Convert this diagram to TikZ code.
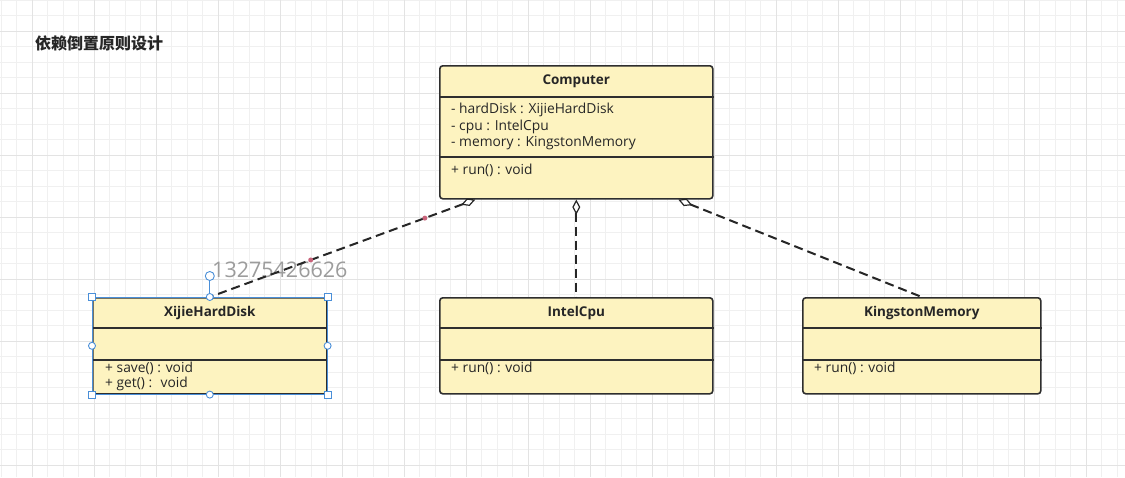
\documentclass[tikz,border=0pt]{standalone}
\usepackage{fontspec}
\setmainfont{Open Sans}
\newfontfamily\cjkfont{Noto Sans CJK SC}
\usepackage{tikz}
\usetikzlibrary{arrows, arrows.meta}
\usepackage{xcolor}
\definecolor{classfill}{HTML}{FDF3C0}
\definecolor{boxline}{HTML}{2E2E2E}
\definecolor{linedark}{HTML}{262626}
\definecolor{textdark}{HTML}{262626}
\definecolor{gridlight}{HTML}{F0F0F0}
\definecolor{griddark}{HTML}{E3E3E3}
\definecolor{selblue}{HTML}{4A8FD8}
\definecolor{waypink}{HTML}{C8637A}
\definecolor{markgray}{HTML}{9C9C9C}

\begin{document}
\begin{tikzpicture}[x=1pt, y=-1pt,
    classbox/.style={draw=boxline, fill=classfill, line width=1.6pt, rounded corners=3pt, anchor=north west, inner sep=0pt, minimum height=96pt},
    classname/.style={font=\bfseries\fontsize{13.5}{15}\selectfont, text=textdark, inner sep=0pt},
    member/.style={anchor=west, font=\fontsize{13.8}{16}\selectfont, text=textdark, inner sep=0pt},
    sepline/.style={draw=boxline, line width=1.3pt},
    aggr/.style={{Diamond[length=15pt, width=8pt, fill=white, line width=1.2pt]}-, draw=linedark, line width=2pt, dash pattern=on 9pt off 5pt},
    gridminor/.style={draw=gridlight, line width=0.8pt},
    gridmajor/.style={draw=griddark, line width=1pt},
    waypt/.style={circle, solid, fill=waypink, inner sep=0pt, minimum size=5pt},
    handlesq/.style={rectangle, solid, draw=selblue, fill=white, line width=0.9pt, minimum size=7pt, inner sep=0pt},
    handlecirc/.style={circle, solid, draw=selblue, fill=white, line width=0.9pt, minimum size=7pt, inner sep=0pt}]

    \useasboundingbox (0,0) rectangle (1125,477);
    \fill[white] (0,0) rectangle (1125,477);
    \foreach \gx in {1,16.5,...,1125} \draw[gridminor] (\gx,0) -- (\gx,477);
    \foreach \gy in {0,15.5,...,477} \draw[gridminor] (0,\gy) -- (1125,\gy);
    \foreach \gx in {32,94,...,1125} \draw[gridmajor] (\gx,0) -- (\gx,477);
    \foreach \gy in {31,93,...,477} \draw[gridmajor] (0,\gy) -- (1125,\gy);

    \node[anchor=west, inner sep=0pt, text=textdark, font=\cjkfont\bfseries\fontsize{16}{18}\selectfont] (title) at (35,43) {依赖倒置原则设计};

    \node[classbox, minimum width=273pt, minimum height=133pt] (computer) at (439,65) {};
    \draw[sepline] ([yshift=-32pt]computer.north west) -- ([yshift=-32pt]computer.north east);
    \draw[sepline] ([yshift=-92pt]computer.north west) -- ([yshift=-92pt]computer.north east);
    \node[classname] at ([yshift=-16pt]computer.north) {Computer};
    \node[member] at ([xshift=12pt, yshift=-45pt]computer.north west) {- hardDisk : XijieHardDisk};
    \node[member] at ([xshift=12pt, yshift=-62pt]computer.north west) {- cpu : IntelCpu};
    \node[member] at ([xshift=12pt, yshift=-78pt]computer.north west) {- memory : KingstonMemory};
    \node[member] at ([xshift=12pt, yshift=-105pt]computer.north west) {+ run() : void};

    \node[classbox, minimum width=234pt] (disk) at (92,297) {};
    \draw[sepline] ([yshift=-31pt]disk.north west) -- ([yshift=-31pt]disk.north east);
    \draw[sepline] ([yshift=-63pt]disk.north west) -- ([yshift=-63pt]disk.north east);
    \node[classname] at ([yshift=-16pt]disk.north) {XijieHardDisk};
    \node[member] at ([xshift=13pt, yshift=-71pt]disk.north west) {+ save() : void};
    \node[member] at ([xshift=13pt, yshift=-87pt]disk.north west) {+ get() :~ void};

    \node[classbox, minimum width=273pt] (cpu) at (439,297) {};
    \draw[sepline] ([yshift=-31pt]cpu.north west) -- ([yshift=-31pt]cpu.north east);
    \draw[sepline] ([yshift=-63pt]cpu.north west) -- ([yshift=-63pt]cpu.north east);
    \node[classname] at ([yshift=-16pt]cpu.north) {IntelCpu};
    \node[member] at ([xshift=12pt, yshift=-71pt]cpu.north west) {+ run() : void};

    \node[classbox, minimum width=238pt] (memory) at (802,297) {};
    \draw[sepline] ([yshift=-31pt]memory.north west) -- ([yshift=-31pt]memory.north east);
    \draw[sepline] ([yshift=-63pt]memory.north west) -- ([yshift=-63pt]memory.north east);
    \node[classname] at ([yshift=-16pt]memory.north) {KingstonMemory};
    \node[member] at ([xshift=12pt, yshift=-71pt]memory.north west) {+ run() : void};

    \node[anchor=west, inner sep=0pt, text=markgray, font=\fontsize{21.5}{24}\selectfont] (mark) at (212,270) {13275426626};

    \draw[aggr] ([xshift=-101pt]computer.south) -- node[waypt, pos=0.19] {} node[waypt, pos=0.62] {} (disk.north);
    \draw[aggr] (computer.south) -- (cpu.north);
    \draw[aggr] ([xshift=102pt]computer.south) -- (memory.north);

    \draw[selblue, line width=0.8pt] (disk.north west) rectangle (disk.south east);
    \node[handlecirc, minimum size=9pt] (rot) at ([yshift=21pt]disk.north) {};
    \draw[selblue, line width=0.8pt] (rot) -- (disk.north);
    \foreach \hc in {north west, north east, south west, south east}
        \node[handlesq] at (disk.\hc) {};
    \foreach \hc in {north, south, west, east}
        \node[handlecirc] at (disk.\hc) {};
\end{tikzpicture}
\end{document}
